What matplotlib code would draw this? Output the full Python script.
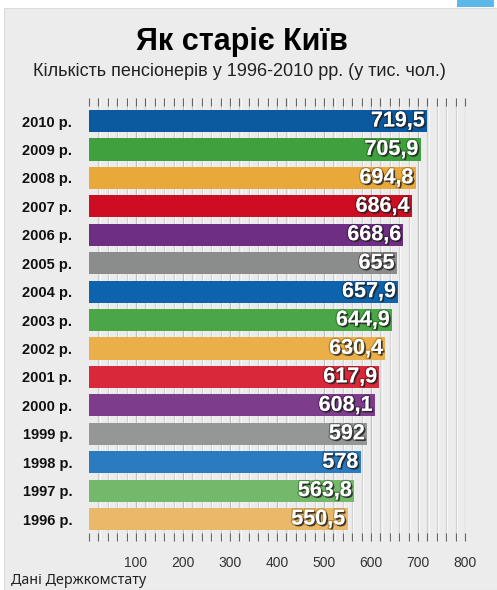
import matplotlib.pyplot as plt
import matplotlib.patheffects as pe
from matplotlib.patches import Rectangle
import numpy as np

years = ["1996 р.", "1997 р.", "1998 р.", "1999 р.", "2000 р.", "2001 р.", "2002 р.",
         "2003 р.", "2004 р.", "2005 р.", "2006 р.", "2007 р.", "2008 р.", "2009 р.", "2010 р."]
values = [550.5, 563.8, 578, 592, 608.1, 617.9, 630.4, 644.9, 657.9, 655, 668.6, 686.4, 694.8, 705.9, 719.5]
value_labels = ["550,5", "563,8", "578", "592", "608,1", "617,9", "630,4", "644,9",
                "657,9", "655", "668,6", "686,4", "694,8", "705,9", "719,5"]
x_ticks = [100, 200, 300, 400, 500, 600, 700, 800]

# кольори від 1996 до 2010 (нижні світліші)
colors = ["#e9b868", "#74b86c", "#2a7bbf", "#949796", "#7e3d8c", "#d8283a", "#eaaf48",
          "#4aa647", "#0d64ad", "#8a8d8b", "#6e2e82", "#cd0d22", "#e8a93a", "#3fa03e", "#0b5aa0"]
shadow = ["#8a5f18", "#2d5f28", "#0d3560", "#3a3c3b", "#3a1245", "#6a0a14", "#8a5f18",
          "#1f5a1d", "#05305a", "#3a3c3b", "#32103e", "#5a0510", "#8a5f18", "#1f5a1d", "#04284d"]

FONT = "Liberation Sans"

fig = plt.figure(figsize=(4.97, 5.90), dpi=100)
fig.patch.set_facecolor("white")
fig.add_artist(Rectangle((4 / 497, 0), 1, (590 - 8) / 590, transform=fig.transFigure,
                         facecolor="#ececec", edgecolor="#dcdcdc", lw=0.8, zorder=0))
fig.add_artist(Rectangle((457 / 497, (590 - 7) / 590), 37 / 497, 7 / 590, transform=fig.transFigure,
                         facecolor="#5bb8e8", edgecolor="none", zorder=0))

ax = fig.add_axes([89 / 497, 49 / 590, 376 / 497, 443 / 590])
ax.set_facecolor("none")
ypos = np.arange(len(values))

for x in range(20, 820, 20):
    c = "#bababa" if x % 100 == 0 else "#d0d0d0"
    ax.axvline(x, color=c, lw=0.9, zorder=0)
    ax.axvline(x + 2.5, color="#f8f8f8", lw=0.8, zorder=0)

ax.barh(ypos, values, height=0.78, color=colors, zorder=2)

for y, v, t, sc in zip(ypos, values, value_labels, shadow):
    ax.text(v - 5, y, t, ha="right", va="center", color="white", fontsize=15.5,
            fontweight="bold", family=FONT, zorder=3,
            path_effects=[pe.withStroke(linewidth=2, foreground=sc, alpha=0.5),
                          pe.withSimplePatchShadow(offset=(1.2, -1.2), shadow_rgbFace="#222222", alpha=0.8)])

ax.set_xlim(0, 800)
ax.set_ylim(-0.77, 14.81)
ax.set_yticks(ypos)
ax.set_yticklabels(years, family=FONT, fontweight="bold", fontsize=10.5, color="#111111")
ax.tick_params(axis="y", length=0, pad=12)
ax.set_xticks(x_ticks)
ax.set_xticklabels([str(t) for t in x_ticks], family=FONT, fontsize=10, color="#333333")
ax.set_xticks(range(0, 820, 20), minor=True)
ax.tick_params(axis="x", which="both", direction="in", top=True, bottom=True, length=6,
               width=0.8, color="#666666", pad=11)
for s in ax.spines.values():
    s.set_visible(False)

fig.text(242 / 497, 1 - 42 / 590, "Як старіє Київ", ha="center", va="center",
         family=FONT, fontweight="bold", fontsize=22)
fig.text(239 / 497, 1 - 72 / 590, "Кількість пенсіонерів у 1996-2010 рр. (у тис. чол.)",
         ha="center", va="center", family=FONT, fontsize=13, color="#222222")
fig.text(11 / 497, 1 - 580 / 590, "Дані Держкомстату", ha="left", va="center",
         family="Noto Sans", fontsize=10.3, color="#222222")

fig.savefig("out.png", dpi=100)
